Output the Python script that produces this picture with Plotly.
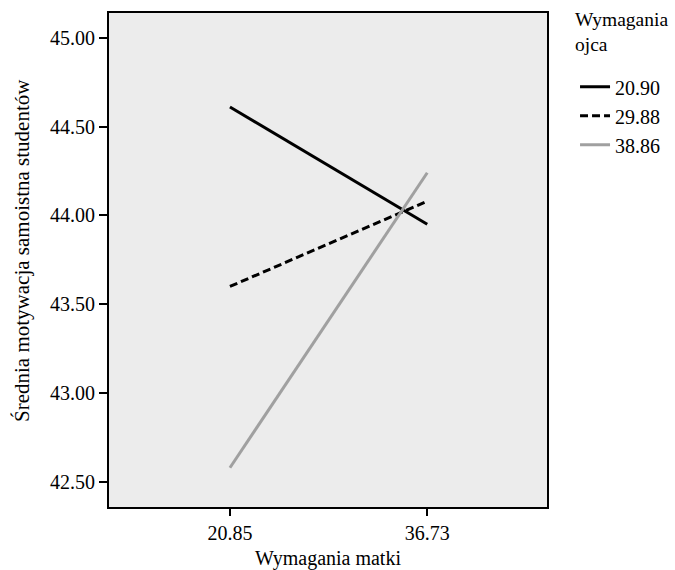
import plotly.graph_objects as go

categories = ["20.85", "36.73"]
series_names = ["20.90", "29.88", "38.86"]
values_2090 = [44.61, 43.95]
values_2988 = [43.60, 44.08]
values_3886 = [42.58, 44.24]
y_ticks = [42.5, 43.0, 43.5, 44.0, 44.5, 45.0]
y_tick_labels = ["42.50", "43.00", "43.50", "44.00", "44.50", "45.00"]

FONT = "Liberation Serif, Times New Roman, serif"
FS = 20

fig = go.Figure()
fig.add_trace(go.Scatter(x=categories, y=values_2090, mode="lines", name=series_names[0],
                         line=dict(color="black", width=3)))
fig.add_trace(go.Scatter(x=categories, y=values_2988, mode="lines", name=series_names[1],
                         line=dict(color="black", width=3, dash="8px,4px")))
fig.add_trace(go.Scatter(x=categories, y=values_3886, mode="lines", name=series_names[2],
                         line=dict(color="#a0a0a0", width=3)))

fig.update_layout(
    width=675, height=570,
    margin=dict(l=109, r=128, t=13, b=63, autoexpand=False),
    paper_bgcolor="white",
    plot_bgcolor="#ECECEC",
    font=dict(family=FONT, size=FS, color="black"),
    showlegend=True,
    legend=dict(x=1.064, xanchor="left", y=0.890, yanchor="top",
                font=dict(family=FONT, size=FS, color="black"),
                bgcolor="rgba(0,0,0,0)", tracegroupgap=0, itemwidth=30),
    annotations=[
        dict(text="Wymagania<br>ojca", xref="paper", yref="paper",
             x=1.059, y=1.012, xanchor="left", yanchor="top", showarrow=False,
             align="left", font=dict(family=FONT, size=19.5, color="black")),
        dict(text="Średnia motywacja samoistna studentów", xref="paper", yref="paper",
             x=-0.199, y=0.52, xanchor="center", yanchor="middle", showarrow=False,
             textangle=-90, font=dict(family=FONT, size=21, color="black")),
    ],
)
fig.update_xaxes(type="category", range=[-0.613, 1.607], automargin=False,
                 showline=True, linecolor="black", linewidth=2, mirror=True,
                 ticks="outside", ticklen=7, tickwidth=2, tickcolor="black",
                 showgrid=False, zeroline=False,
                 title=dict(text="Wymagania matki", standoff=12,
                            font=dict(family=FONT, size=FS)),
                 tickfont=dict(family=FONT, size=FS))
fig.update_yaxes(range=[42.359, 45.139], tickvals=y_ticks, ticktext=y_tick_labels,
                 automargin=False,
                 showline=True, linecolor="black", linewidth=2, mirror=True,
                 ticks="outside", ticklen=8, tickwidth=2, tickcolor="black",
                 showgrid=False, zeroline=False,
                 tickfont=dict(family=FONT, size=FS))

fig.write_html("out.html")
